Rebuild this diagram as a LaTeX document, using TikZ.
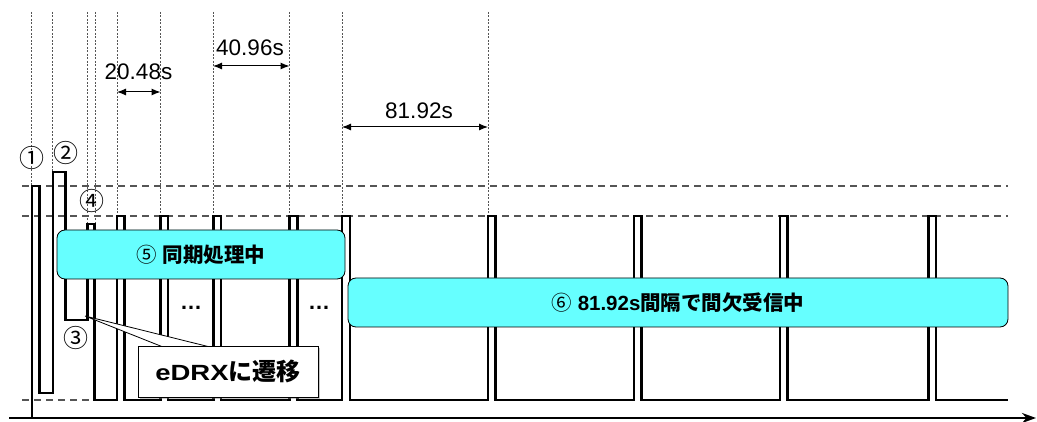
\documentclass[tikz,border=0pt]{standalone}
\usepackage{fontspec}
\setmainfont{Liberation Sans}
\newfontfamily\jp{Noto Sans CJK JP}
\usetikzlibrary{arrows.meta,shadows}
\definecolor{boxcyan}{HTML}{66FFFF}
\definecolor{dgrey}{HTML}{555555}
\begin{document}
\begin{tikzpicture}[x=1pt,y=-1pt,
  wave/.style={line width=2.7pt, line join=miter},
  guide/.style={dgrey, line width=0.6pt, dash pattern=on 2pt off 1.5pt},
  level/.style={dgrey, line width=1.1pt, dash pattern=on 7pt off 5pt},
  dim/.style={line width=1pt, {Latex[length=9pt,width=7pt]}-{Latex[length=9pt,width=7pt]}},
  dimlabel/.style={font=\fontsize{22.5}{24}\selectfont, inner sep=0pt},
  circnum/.style={font=\jp\fontsize{25}{27}\selectfont, inner sep=0pt},
  phase/.style={draw=black, line width=0.8pt, fill=boxcyan, rounded corners=8pt,
    font=\bfseries\fontsize{20.5}{22}\selectfont, inner sep=0pt},
  callout/.style={draw=black, line width=0.8pt, fill=white, inner sep=0pt,
    drop shadow={shadow xshift=1.5pt, shadow yshift=-1.5pt, opacity=0.45}},
  dots/.style={font=\bfseries\fontsize{22}{24}\selectfont, inner sep=0pt, anchor=base},
]
\useasboundingbox (0,0) rectangle (1037,422);

% vertical guide lines
\foreach \gx/\gy in {31/186, 52.5/172, 87/224, 95/224, 117/216, 160.5/216, 213/216, 289.5/216, 342/216, 488/216}
  \draw[guide] (\gx,12) -- (\gx,\gy);

% horizontal level lines
\draw[level] (22,186) -- (1008,186);
\draw[level] (22,216) -- (1008,216);
\draw[level] (22,400) -- (95,400);

% waveform
\draw[wave] (32,418) -- (32,186) -- (39.5,186) -- (39.5,393) -- (53,393) -- (53,172)
  -- (65.5,172) -- (65.5,320) -- (87.5,320) -- (87.5,224) -- (94.5,224) -- (94.5,400)
  -- (117,400) -- (117,216) -- (124.5,216) -- (124.5,400)
  -- (160.5,400) -- (160.5,216) -- (168,216) -- (168,400)
  -- (213.5,400) -- (213.5,216) -- (221,216) -- (221,400)
  -- (289.5,400) -- (289.5,216) -- (297.5,216) -- (297.5,400)
  -- (342,400) -- (342,216) -- (350,216) -- (350,400)
  -- (488,400) -- (488,216) -- (495.5,216) -- (495.5,400)
  -- (634,400) -- (634,216) -- (641.5,216) -- (641.5,400)
  -- (780,400) -- (780,216) -- (787.5,216) -- (787.5,400)
  -- (928.5,400) -- (928.5,216) -- (936,216) -- (936,400)
  -- (1008,400);

% time axis
\coordinate (ax0) at (9,418);
\coordinate (ax1) at (1036,418);
\draw[line width=2.7pt, -{Stealth[length=14pt,width=10pt]}] (ax0) -- (ax1);

% circled numbers
\node[circnum] (n1) at (32,158) {①};
\node[circnum] (n2) at (66,153) {②};
\node[circnum] (n3) at (76,338) {③};
\node[circnum] (n4) at (92,201) {④};

% phase boxes
\node[phase, minimum width=288pt, minimum height=49pt] (ph5) at (201,254.5)
  {{\jp\mdseries ⑤} {\jp 同期処理中}};
\node[phase, minimum width=660pt, minimum height=49pt] (ph6) at (678,302.5)
  {{\jp\mdseries ⑥} 81.92s{\jp 間隔で間欠受信中}};

% ellipses
\node[dots] (e1) at (191,309) {…};
\node[dots] (e2) at (319,309) {…};

% callout
\coordinate (tip) at (85,316);
\coordinate (cb1) at (163,347);
\coordinate (cb2) at (210,347);
\fill[white] (cb1) -- (tip) -- (cb2) -- cycle;
\draw[line width=0.8pt] (cb1) -- (tip) -- (cb2);
\node[callout, minimum width=180pt, minimum height=51pt] (edrx) at (228,371.5)
  {\bfseries\fontsize{22}{24}\selectfont\scalebox{1.25}[1]{eDRX}{\jp\fontsize{24}{26}\selectfont に遷移}};

% dimension arrows
\coordinate (d1a) at (117,92);   \coordinate (d1b) at (160.5,92);
\coordinate (d2a) at (213,66);   \coordinate (d2b) at (289.5,66);
\coordinate (d3a) at (342,127);  \coordinate (d3b) at (488,127);
\draw[dim] (d1a) -- (d1b);
\draw[dim] (d2a) -- (d2b);
\draw[dim] (d3a) -- (d3b);
\node[dimlabel] (l1) at (138.5,71.5) {20.48s};
\node[dimlabel] (l2) at (250,47.5) {40.96s};
\node[dimlabel] (l3) at (419,110.5) {81.92s};
\end{tikzpicture}
\end{document}
